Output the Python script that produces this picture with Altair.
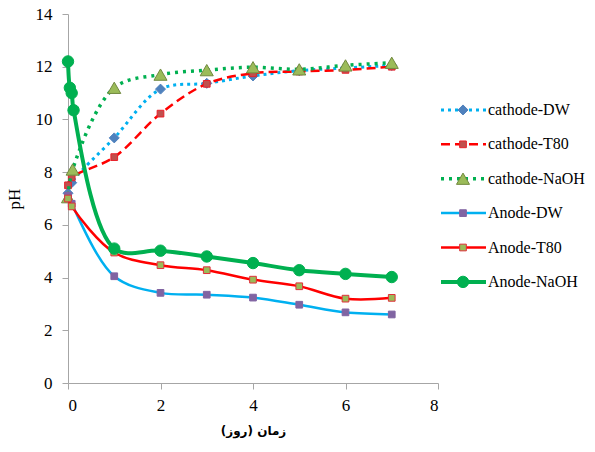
import altair as alt
import pandas as pd

series_names = ["cathode-DW", "cathode-T80", "cathode-NaOH", "Anode-DW", "Anode-T80", "Anode-NaOH"]

cath_dw_t = [0, 0.08, 1, 2, 3, 4, 5, 6, 7]
cath_dw_ph = [7.2, 7.6, 9.3, 11.15, 11.37, 11.65, 11.85, 11.95, 12.05]

cath_t80_t = [0, 0.08, 1, 2, 3, 4, 5, 6, 7]
cath_t80_ph = [7.5, 7.8, 8.57, 10.22, 11.35, 11.75, 11.82, 11.88, 12.0]

cath_naoh_t = [0, 0.1, 1, 2, 3, 4, 5, 6, 7]
cath_naoh_ph = [7.05, 8.1, 11.2, 11.7, 11.87, 11.98, 11.9, 12.05, 12.15]

an_dw_t = [0, 0.08, 1, 2, 3, 4, 5, 6, 7]
an_dw_ph = [7.1, 6.8, 4.05, 3.42, 3.35, 3.24, 2.97, 2.68, 2.6]

an_t80_t = [0, 0.08, 1, 2, 3, 4, 5, 6, 7]
an_t80_ph = [7.0, 6.7, 4.95, 4.47, 4.28, 3.92, 3.67, 3.2, 3.23]

an_naoh_t = [0, 0.04, 0.08, 0.12, 1, 2, 3, 4, 5, 6, 7]
an_naoh_ph = [12.2, 11.2, 11.0, 10.35, 5.1, 5.02, 4.8, 4.55, 4.28, 4.14, 4.02]

x_ticks = [0, 2, 4, 6, 8]
y_ticks = [0, 2, 4, 6, 8, 10, 12, 14]

x_title = "\u200fزمان (روز)\u200f"

series_data = {
    "cathode-DW": (cath_dw_t, cath_dw_ph),
    "cathode-T80": (cath_t80_t, cath_t80_ph),
    "cathode-NaOH": (cath_naoh_t, cath_naoh_ph),
    "Anode-DW": (an_dw_t, an_dw_ph),
    "Anode-T80": (an_t80_t, an_t80_ph),
    "Anode-NaOH": (an_naoh_t, an_naoh_ph),
}

styles = {
    "cathode-DW": dict(color="#00B0F0", dash=[3, 4], width=3, shape="diamond", mfill="#4F81BD", mstroke="#4F81BD", msize=100),
    "cathode-T80": dict(color="#FF0000", dash=[9, 5], width=2.5, shape="square", mfill="#C0504D", mstroke="#E8202A", msize=45),
    "cathode-NaOH": dict(color="#00B050", dash=[3, 5], width=3.5, shape="triangle-up", mfill="#9BBB59", mstroke="#71893F", msize=170),
    "Anode-DW": dict(color="#00B0F0", dash=None, width=2.5, shape="square", mfill="#8064A2", mstroke="#8064A2", msize=45),
    "Anode-T80": dict(color="#FF0000", dash=None, width=2.5, shape="square", mfill="#9BBB59", mstroke="#E0303A", msize=45),
    "Anode-NaOH": dict(color="#00B050", dash=None, width=4, shape="circle", mfill="#00B050", mstroke="#00B050", msize=130),
}

rows = []
for name in series_names:
    ts, ps = series_data[name]
    for t, p in zip(ts, ps):
        rows.append({"series": name, "t": t, "ph": p})
df = pd.DataFrame(rows)

serif = "Liberation Serif, Times New Roman, serif"

x_enc = alt.X("t:Q", scale=alt.Scale(domain=[0, 8], nice=False),
              axis=alt.Axis(values=x_ticks, title=x_title, grid=False,
                            labelFont=serif, labelFontSize=17, labelColor="#000",
                            labelPadding=8, tickSize=6, tickColor="#A6A6A6",
                            domainColor="#A6A6A6", titleFont="DejaVu Sans",
                            titleFontSize=12, titleFontWeight="bold", titleColor="#000",
                            titlePadding=12))
y_enc = alt.Y("ph:Q", scale=alt.Scale(domain=[0, 14], nice=False),
              axis=alt.Axis(values=y_ticks, title="pH", grid=False,
                            labelFont=serif, labelFontSize=17, labelColor="#000",
                            labelPadding=10, tickSize=6, tickColor="#A6A6A6",
                            domainColor="#A6A6A6", titleFont=serif,
                            titleFontSize=17, titleFontWeight="normal", titleColor="#000",
                            titlePadding=12))

layers = []
for name in series_names:
    st = styles[name]
    base = alt.Chart(df).transform_filter(alt.datum.series == name)
    line_kw = dict(color=st["color"], strokeWidth=st["width"], interpolate="catmull-rom")
    if st["dash"]:
        line_kw["strokeDash"] = st["dash"]
    layers.append(base.mark_line(**line_kw).encode(x=x_enc, y=y_enc))
    layers.append(base.mark_point(shape=st["shape"], filled=True, fill=st["mfill"],
                                  stroke=st["mstroke"], strokeWidth=1, size=st["msize"],
                                  opacity=1).encode(x=x_enc, y=y_enc))

main = alt.layer(*layers).properties(width=370, height=369)

leg_df = pd.DataFrame({"series": series_names, "idx": list(range(len(series_names)))})
leg_y = alt.Y("idx:Q", scale=alt.Scale(domain=[-2.79, 7.94], reverse=True, nice=False, zero=False), axis=None)

leg_layers = []
for name in series_names:
    st = styles[name]
    base = alt.Chart(leg_df).transform_filter(alt.datum.series == name)
    rule_kw = dict(color=st["color"], strokeWidth=st["width"])
    if st["dash"]:
        rule_kw["strokeDash"] = st["dash"]
    leg_layers.append(base.mark_rule(**rule_kw).encode(x=alt.value(1), x2=alt.value(46), y=leg_y))
    leg_layers.append(base.mark_point(shape=st["shape"], filled=True, fill=st["mfill"],
                                      stroke=st["mstroke"], strokeWidth=1, size=st["msize"],
                                      opacity=1).encode(x=alt.value(23), y=leg_y))
    leg_layers.append(base.mark_text(align="left", baseline="middle", font=serif, fontSize=16,
                                     color="#000").encode(x=alt.value(48), y=leg_y, text="series:N"))

legend = alt.layer(*leg_layers).properties(width=150, height=369)

chart = alt.hconcat(main, legend, spacing=0).properties(
    padding={"left": 5, "top": 5, "right": 2, "bottom": 5}
).configure_view(stroke=None)

chart.save("out.html", embed_options={"renderer": "svg", "actions": False})
